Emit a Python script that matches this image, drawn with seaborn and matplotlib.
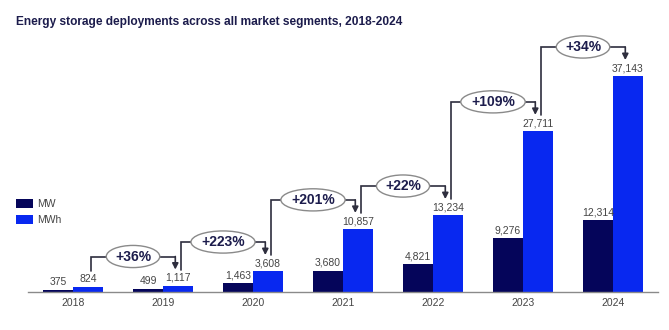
import matplotlib
matplotlib.use("Agg")
import matplotlib.pyplot as plt
import seaborn as sns
import pandas as pd
from matplotlib.patches import Patch

years = ["2018", "2019", "2020", "2021", "2022", "2023", "2024"]
mw = [375, 499, 1463, 3680, 4821, 9276, 12314]
mwh = [824, 1117, 3608, 10857, 13234, 27711, 37143]
growth = ["+36%", "+223%", "+201%", "+22%", "+109%", "+34%"]
series = ["MW", "MWh"]
colors = ["#05055a", "#0828f0"]
title = "Energy storage deployments across all market segments, 2018-2024"

df = pd.DataFrame({
    "year": years * 2,
    "value": mw + mwh,
    "series": [series[0]] * len(years) + [series[1]] * len(years),
})

sns.set_style("white")
plt.rcParams["font.family"] = ["Liberation Sans", "DejaVu Sans"]

fig = plt.figure(figsize=(6.69, 3.30), dpi=100)
ax = fig.add_axes([28 / 669, 38 / 330, 630 / 669, 252 / 330])

sns.barplot(data=df, x="year", y="value", hue="series", palette=colors,
            width=2 / 3, gap=0, dodge=True, ax=ax, legend=False,
            saturation=1, linewidth=0)

ymax = 37143 * 252 / 216
ax.set_ylim(0, ymax)
ax.set_xlim(-0.5, len(years) - 0.5)
ax.set_xlabel("")
ax.set_ylabel("")
ax.set_yticks([])
for s in ["top", "right", "left"]:
    ax.spines[s].set_visible(False)
ax.spines["bottom"].set_color("#8a8a8a")
ax.spines["bottom"].set_linewidth(1.0)
ax.tick_params(axis="x", length=0, pad=4, labelsize=7.5, labelcolor="#444444")

for cont in ax.containers:
    ax.bar_label(cont, labels=[f"{v:,.0f}" for v in cont.datavalues],
                 padding=2, fontsize=7.5, color="#444444")

# growth brackets
unit = ymax / 252.0  # data units per pixel
off = 16 * unit
gap_lvl = 13 * unit
line_c = "#2e2e3e"
for i, g in enumerate(growth):
    x0 = i + 1 / 6 + 0.03
    x1 = i + 1 + 1 / 6 - 0.03
    y0 = mwh[i] + off
    y1 = mwh[i + 1] + off
    lvl = max(y0, y1) + gap_lvl
    ax.plot([x0, x0, x1], [y0, lvl, lvl], color=line_c, lw=1.2,
            solid_joinstyle="miter", clip_on=False, zorder=3)
    ax.annotate("", xy=(x1, y1), xytext=(x1, lvl),
                arrowprops=dict(arrowstyle="-|>,head_length=0.35,head_width=0.18",
                                color=line_c, lw=1.2, shrinkA=0, shrinkB=0),
                annotation_clip=False, zorder=3)
    ax.text((x0 + x1) / 2, lvl, g, ha="center", va="center", fontsize=10,
            fontweight="bold", color="#1c1c4c", zorder=5,
            bbox=dict(boxstyle="ellipse,pad=0.06", fc="white", ec="#8a8a8a", lw=1.0))

# legend
handles = [Patch(facecolor=c, edgecolor="none", label=s) for s, c in zip(series, colors)]
fig.legend(handles=handles, loc="upper left", bbox_to_anchor=(12 / 669, 1 - 195 / 330),
           frameon=False, fontsize=7.5, labelcolor="#444444", handlelength=1.6,
           handleheight=1.0, handletextpad=0.4, labelspacing=0.5, borderaxespad=0)

fig.text(16 / 669, 1 - 22 / 330, title, ha="left", va="center", fontsize=8.55,
         fontweight="bold", color="#1c1c4c")

fig.savefig("out.png", dpi=100)
